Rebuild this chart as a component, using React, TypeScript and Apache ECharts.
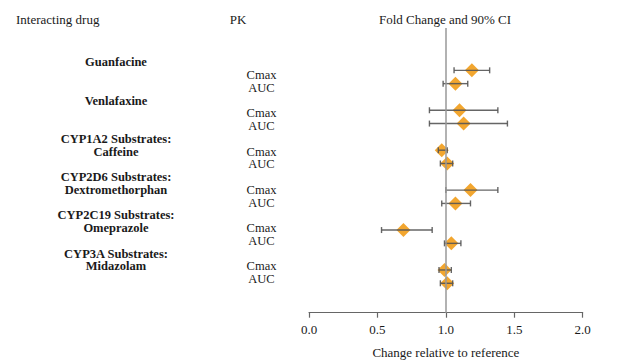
import React, { useEffect, useRef } from "react";
import * as echarts from "echarts";

// ---- data ----
const drugNames: string[][] = [
  ["Guanfacine"],
  ["Venlafaxine"],
  ["CYP1A2 Substrates:", "Caffeine"],
  ["CYP2D6 Substrates:", "Dextromethorphan"],
  ["CYP2C19 Substrates:", "Omeprazole"],
  ["CYP3A Substrates:", "Midazolam"],
];
const pkParams = ["Cmax", "AUC"];
const cmaxFold = [1.19, 1.1, 0.97, 1.18, 0.69, 0.99];
const cmaxLo = [1.06, 0.88, 0.945, 1.0, 0.53, 0.95];
const cmaxHi = [1.32, 1.38, 1.01, 1.38, 0.9, 1.04];
const aucFold = [1.07, 1.13, 1.01, 1.07, 1.04, 1.01];
const aucLo = [0.98, 0.88, 0.96, 0.97, 0.99, 0.96];
const aucHi = [1.16, 1.45, 1.05, 1.18, 1.11, 1.05];
const xTicks = [0, 0.5, 1.0, 1.5, 2.0];
const headers = ["Interacting drug", "PK", "Fold Change and 90% CI"];
const xTitle = "Change relative to reference";

const FONT = "Liberation Serif";

export default function App() {
  const ref = useRef<HTMLDivElement>(null);
  useEffect(() => {
    if (!ref.current) return;
    const chart = echarts.init(ref.current, undefined, { renderer: "svg" });

    const points: number[][] = [];
    const bars: number[][] = [];
    drugNames.forEach((_, i) => {
      points.push([cmaxFold[i], 3 * i + 1]);
      points.push([aucFold[i], 3 * i + 2]);
      bars.push([cmaxLo[i], cmaxHi[i], 3 * i + 1]);
      bars.push([aucLo[i], aucHi[i], 3 * i + 2]);
    });

    const labelTop = 62.3;
    const labelStep = 12.75;
    const txt = (text: string, x: number, y: number, size: number, weight: string, align: string) => ({
      type: "text",
      x,
      y,
      style: {
        text,
        fontFamily: FONT,
        fontSize: size,
        fontWeight: weight,
        fill: "#1a1a1a",
        align,
        verticalAlign: "middle",
      },
    });
    const graphics: any[] = [];
    graphics.push(txt(headers[0], 16, 19, 13, "normal", "left"));
    graphics.push(txt(headers[1], 238, 19, 13, "normal", "center"));
    graphics.push(txt(headers[2], 445, 19, 13, "normal", "center"));
    drugNames.forEach((lines, i) => {
      lines.forEach((ln, j) => {
        graphics.push(txt(ln, 116, labelTop + labelStep * (3 * i + j), 12.5, "bold", "center"));
      });
      pkParams.forEach((p, k) => {
        graphics.push(txt(p, 261.5, labelTop + labelStep * (3 * i + 1 + k), 12.5, "normal", "center"));
      });
    });

    chart.setOption({
      animation: false,
      textStyle: { fontFamily: FONT },
      grid: { left: 309, right: 41.3, top: 28, bottom: 51.3 },
      xAxis: {
        type: "value",
        position: "bottom",
        min: 0,
        max: 2,
        interval: 0.5,
        splitLine: { show: false },
        axisLine: { show: true, onZero: false, lineStyle: { color: "#666", width: 1.2 } },
        axisTick: { show: true, length: 5, lineStyle: { color: "#666", width: 1.2 } },
        axisLabel: {
          margin: 10,
          color: "#1a1a1a",
          fontSize: 13,
          fontFamily: FONT,
          formatter: (v: number) => (xTicks.includes(v) ? v.toFixed(1) : ""),
        },
        name: xTitle,
        nameLocation: "middle",
        nameGap: 33,
        nameTextStyle: { color: "#1a1a1a", fontSize: 13, fontFamily: FONT },
      },
      yAxis: {
        type: "value",
        inverse: true,
        min: -2.18,
        max: 19.21,
        show: false,
      },
      graphic: graphics,
      series: [
        {
          type: "scatter",
          data: points,
          symbol: "diamond",
          symbolSize: 14,
          itemStyle: { color: "#F2A62F", opacity: 1 },
          z: 2,
          markLine: {
            silent: true,
            symbol: "none",
            label: { show: false },
            lineStyle: { color: "#999", width: 1.5, type: "solid" },
            data: [{ xAxis: 1 }],
          },
        },
        {
          type: "custom",
          data: bars,
          z: 3,
          renderItem: (params: any, api: any) => {
            const lo = api.coord([api.value(0), api.value(2)]);
            const hi = api.coord([api.value(1), api.value(2)]);
            const cap = 3;
            const style = { stroke: "#555", lineWidth: 1.4, opacity: 0.9 };
            return {
              type: "group",
              children: [
                { type: "line", shape: { x1: lo[0], y1: lo[1], x2: hi[0], y2: hi[1] }, style },
                { type: "line", shape: { x1: lo[0], y1: lo[1] - cap, x2: lo[0], y2: lo[1] + cap }, style },
                { type: "line", shape: { x1: hi[0], y1: hi[1] - cap, x2: hi[0], y2: hi[1] + cap }, style },
              ],
            };
          },
        },
      ],
    });
    return () => chart.dispose();
  }, []);
  return <div ref={ref} style={{ width: 624, height: 364, position: "absolute", left: 0, top: 0, background: "#fff" }} />;
}
